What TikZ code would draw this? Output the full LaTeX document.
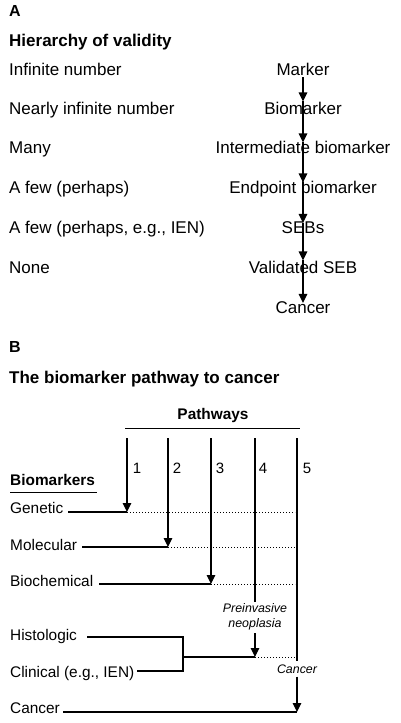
\documentclass[tikz,border=0pt]{standalone}
\usepackage{fontspec}
\setmainfont{Liberation Sans}
\usetikzlibrary{arrows.meta}
\begin{document}
\begin{tikzpicture}[x=1pt,y=-1pt,
  lbl/.style={inner sep=0pt,anchor=base west,font=\fontsize{17}{20}\selectfont},
  ttl/.style={inner sep=0pt,anchor=base west,font=\fontsize{17}{20}\selectfont\bfseries},
  hier/.style={inner sep=0pt,anchor=base,font=\fontsize{17}{20}\selectfont},
  blbl/.style={inner sep=0pt,anchor=base west,font=\fontsize{15.4}{18}\selectfont},
  num/.style={inner sep=0pt,anchor=base,font=\fontsize{15}{18}\selectfont},
  itl/.style={inner sep=0pt,align=center,font=\fontsize{12.4}{14.5}\selectfont\itshape},
  arr/.style={-{Triangle[length=9pt,width=8.5pt]},line width=1.2pt},
  ln/.style={line width=1.2pt},
  dot/.style={line width=1pt,dotted}]
\useasboundingbox (0,0) rectangle (400,723);
% ---------- Part A ----------
\node[ttl,font=\fontsize{16}{19}\selectfont\bfseries] (labA) at (9,16) {A};
\node[ttl] (titA) at (9,46) {Hierarchy of validity};
\node[lbl] (n1) at (9,75) {Infinite number};
\node[lbl] (n2) at (9,114) {Nearly infinite number};
\node[lbl] (n3) at (9,153) {Many};
\node[lbl] (n4) at (9,193) {A few (perhaps)};
\node[lbl] (n5) at (9,233) {A few (perhaps, e.g., IEN)};
\node[lbl] (n6) at (9,273) {None};
\node[hier] (h1) at (303,75) {Marker};
\node[hier] (h2) at (303,114) {Biomarker};
\node[hier] (h3) at (303,153) {Intermediate biomarker};
\node[hier] (h4) at (303,193) {Endpoint biomarker};
\node[hier] (h5) at (303,233) {SEBs};
\node[hier] (h6) at (303,273) {Validated SEB};
\node[hier] (h7) at (303,313) {Cancer};
\draw[arr] ([yshift=-2pt]h1.south) -- (h2.north);
\draw[arr] (h2.north) -- ([yshift=-2pt]h3.north);
\draw[arr] ([yshift=-2pt]h3.north) -- ([yshift=-2pt]h4.north);
\draw[arr] ([yshift=-2pt]h4.north) -- ([yshift=-2pt]h5.north);
\draw[arr] ([yshift=-2pt]h5.north) -- (h6.north);
\draw[arr] (h6.north) -- ([yshift=-2pt]h7.north);
% ---------- Part B ----------
\node[ttl,font=\fontsize{16}{19}\selectfont\bfseries] (labB) at (9,352) {B};
\node[ttl] (titB) at (9,383) {The biomarker pathway to cancer};
\node[inner sep=0pt,anchor=base,font=\fontsize{15.4}{18}\selectfont\bfseries] (pw) at (213,419) {Pathways};
\coordinate (pwl) at (125,428);
\coordinate (pwr) at (300,428);
\draw[line width=1pt] (pwl) -- (pwr);
\node[inner sep=0pt,anchor=base west,font=\fontsize{15.4}{18}\selectfont\bfseries] (bm) at (10,485) {Biomarkers};
\coordinate (bml) at (10,492);
\coordinate (bmr) at (97,492);
\draw[line width=1pt] (bml) -- (bmr);
% pathway numbers
\node[num] (p1) at (137,473) {1};
\node[num] (p2) at (177,473) {2};
\node[num] (p3) at (220,473) {3};
\node[num] (p4) at (263,473) {4};
\node[num] (p5) at (307,473) {5};
% biomarker labels
\node[blbl] (gen) at (10,513) {Genetic};
\node[blbl] (mol) at (10,550) {Molecular};
\node[blbl] (bio) at (10,586) {Biochemical};
\node[blbl] (his) at (10,640) {Histologic};
\node[blbl] (cli) at (10,677) {Clinical (e.g., IEN)};
\node[blbl] (can) at (10,713) {Cancer};
% coordinates
\coordinate (t1) at (127,438); \coordinate (e1) at (127,512);
\coordinate (t2) at (168,438); \coordinate (e2) at (168,547);
\coordinate (t3) at (211,438); \coordinate (e3) at (211,584);
\coordinate (t4) at (255,438); \coordinate (s4) at (255,602);
\coordinate (t5) at (297,438); \coordinate (s5) at (297,661);
\coordinate (g0) at (68,512); \coordinate (g2) at (295,512);
\coordinate (m0) at (82,547); \coordinate (m2) at (295,547);
\coordinate (b0) at (99,584); \coordinate (b2) at (295,584);
\coordinate (h0) at (87,637); \coordinate (hb) at (183,637);
\coordinate (c0) at (137,671); \coordinate (cb) at (183,671);
\coordinate (bm4) at (183,657); \coordinate (e4) at (255,657); \coordinate (d4) at (297,657);
\coordinate (k0) at (63,712); \coordinate (e5) at (297,712);
% pathway lines
\draw[arr] (t1) -- (e1);
\draw[arr] (t2) -- (e2);
\draw[arr] (t3) -- (e3);
\draw[ln] (t4) -- (s4);
\node[itl] (pre) at (255,617) {Preinvasive\\neoplasia};
\draw[arr] ([yshift=-3pt]pre.south) -- (e4);
\draw[ln] (t5) -- (s5);
\node[itl] (canc) at (297,669) {Cancer};
\draw[arr] ([yshift=-3pt]canc.south) -- (e5);
% horizontal lines
\draw[ln] (g0) -- (e1); \draw[dot] (e1) -- (g2);
\draw[ln] (m0) -- (e2); \draw[dot] (e2) -- (m2);
\draw[ln] (b0) -- (e3); \draw[dot] (e3) -- (b2);
\draw[ln] (h0) -- (hb) -- (cb) -- (c0);
\draw[ln] (bm4) -- (e4); \draw[dot] (e4) -- (d4);
\draw[ln] (k0) -- (e5);
\end{tikzpicture}
\end{document}
